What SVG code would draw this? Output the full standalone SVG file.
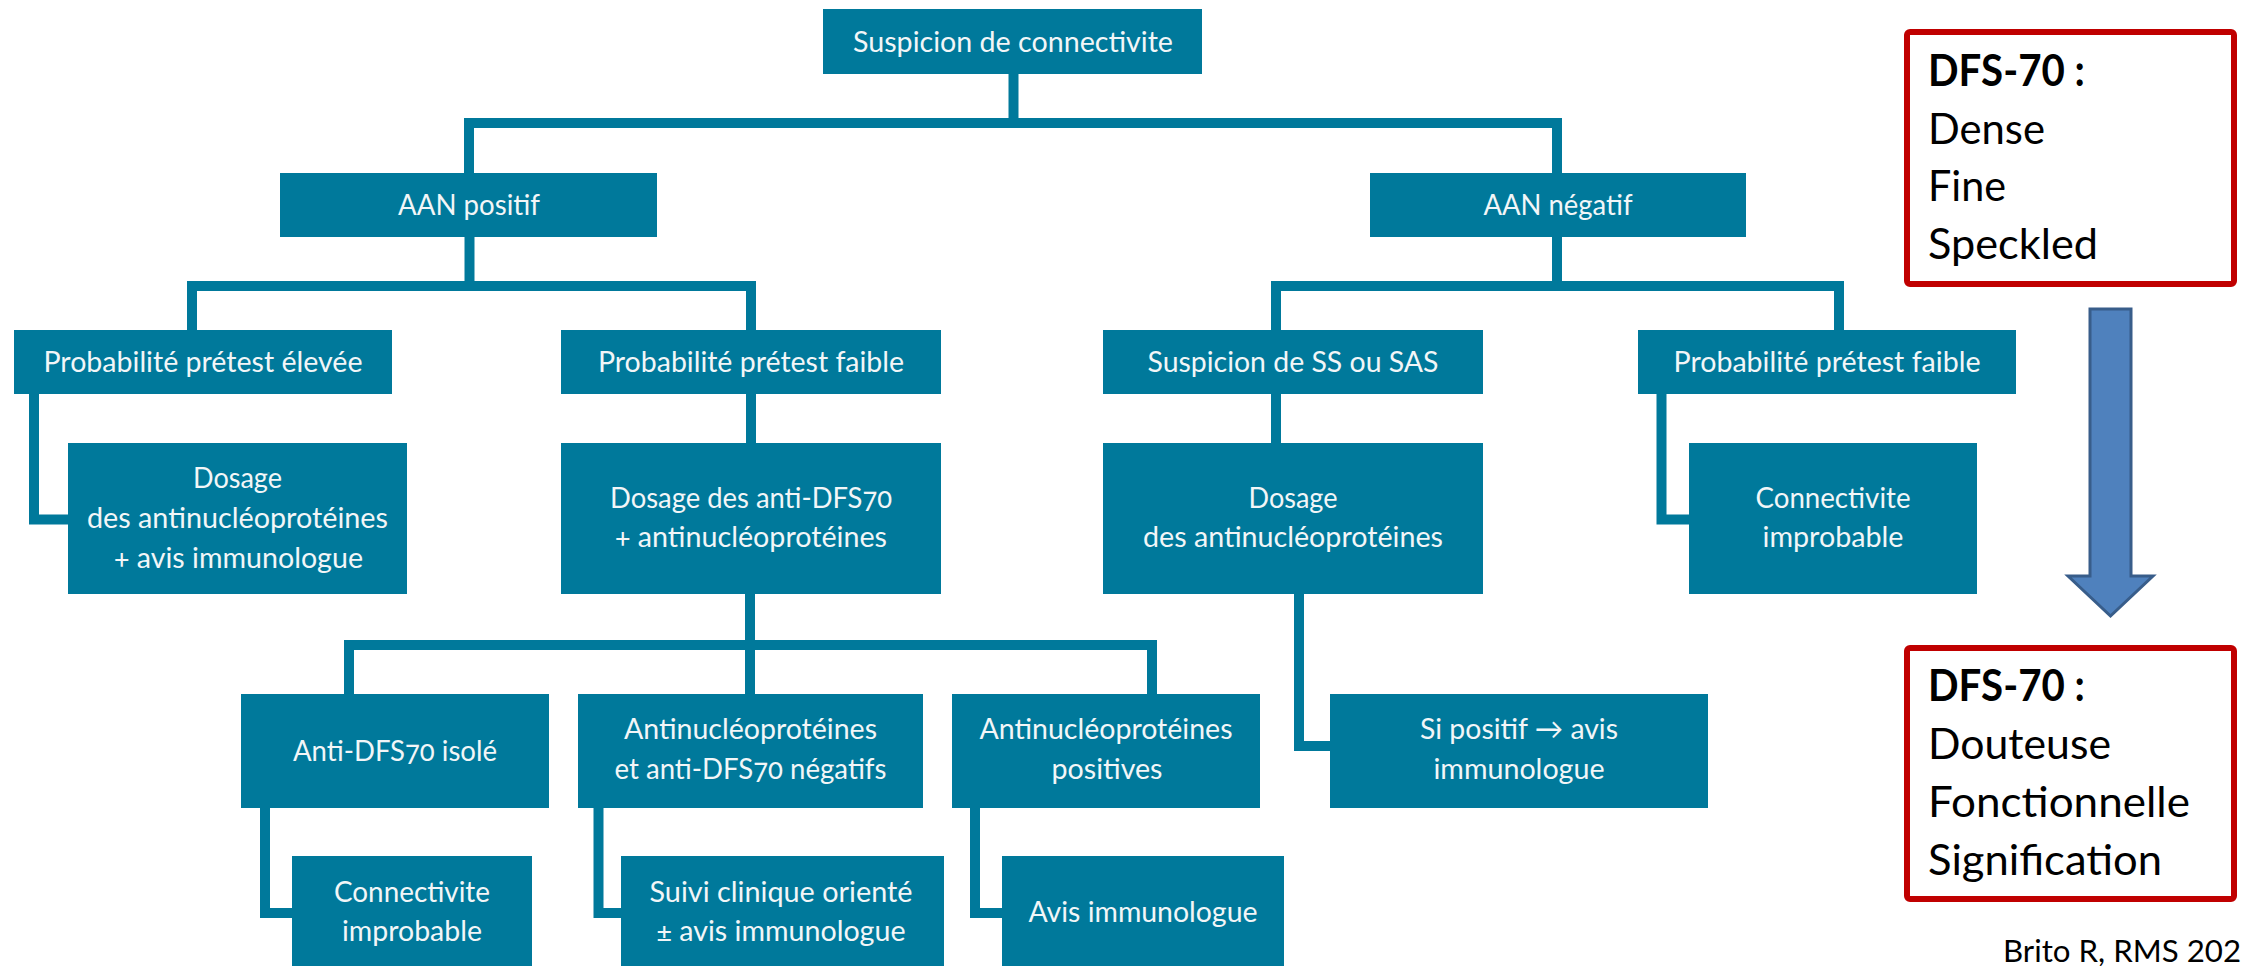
<svg xmlns="http://www.w3.org/2000/svg" width="2246" height="966" viewBox="0 0 2246 966">
<defs>
<style>
.box{fill:#00799b;}
.t{font-family:Lato,"Open Sans","Liberation Sans",sans-serif;font-size:29px;fill:#f2f6f8;text-anchor:middle;font-variant-numeric:oldstyle-nums;}
.conn{fill:none;stroke:#00799b;stroke-width:10;stroke-linejoin:miter;stroke-linecap:butt;}
.red{fill:#ffffff;stroke:#c00000;stroke-width:6;}
.k{font-family:Lato,"Open Sans","Liberation Sans",sans-serif;font-size:43px;fill:#000000;}
.kb{font-weight:bold;}
</style>
</defs>
<rect width="2246" height="966" fill="#ffffff"/>

<g id="connectors">
<path class="conn" d="M1013.5,74 V123"/>
<path class="conn" d="M469,173 V123 H1557 V173"/>
<path class="conn" d="M469.5,237 V286"/>
<path class="conn" d="M192,330 V286 H751 V330"/>
<path class="conn" d="M1557,237 V286"/>
<path class="conn" d="M1276,330 V286 H1839 V330"/>
<path class="conn" d="M34,394 V519.5 H68"/>
<path class="conn" d="M751,394 V443"/>
<path class="conn" d="M1276,394 V443"/>
<path class="conn" d="M1661.5,394 V519.5 H1689"/>
<path class="conn" d="M750,594 V694"/>
<path class="conn" d="M349,694 V645 H1152 V694"/>
<path class="conn" d="M1299,594 V746 H1330"/>
<path class="conn" d="M265,808 V913 H292"/>
<path class="conn" d="M598.5,808 V913 H621"/>
<path class="conn" d="M975,808 V913 H1002"/>
</g>

<g id="n-top"><rect class="box" x="823" y="9" width="379" height="65"/><text class="t" x="1013" y="52" textLength="320" lengthAdjust="spacingAndGlyphs">Suspicion de connectivite</text></g>
<g id="n-aanpos"><rect class="box" x="280" y="173" width="377" height="64"/><text class="t" x="469" y="215" textLength="142" lengthAdjust="spacingAndGlyphs">AAN positif</text></g>
<g id="n-aanneg"><rect class="box" x="1370" y="173" width="376" height="64"/><text class="t" x="1558" y="215" textLength="149" lengthAdjust="spacingAndGlyphs">AAN négatif</text></g>
<g id="n-probhigh"><rect class="box" x="14" y="330" width="378" height="64"/><text class="t" x="203" y="372" textLength="319" lengthAdjust="spacingAndGlyphs">Probabilité prétest élevée</text></g>
<g id="n-problowL"><rect class="box" x="561" y="330" width="380" height="64"/><text class="t" x="751" y="372" textLength="306" lengthAdjust="spacingAndGlyphs">Probabilité prétest faible</text></g>
<g id="n-ss"><rect class="box" x="1103" y="330" width="380" height="64"/><text class="t" x="1293" y="372" textLength="291" lengthAdjust="spacingAndGlyphs">Suspicion de SS ou SAS</text></g>
<g id="n-problowR"><rect class="box" x="1638" y="330" width="378" height="64"/><text class="t" x="1827" y="372" textLength="307" lengthAdjust="spacingAndGlyphs">Probabilité prétest faible</text></g>

<g id="n-dosL"><rect class="box" x="68" y="443" width="339" height="151"/>
<text class="t" x="237.5" y="488" textLength="89" lengthAdjust="spacingAndGlyphs">Dosage</text>
<text class="t" x="237.5" y="528" textLength="301" lengthAdjust="spacingAndGlyphs">des antinucléoprotéines</text>
<text class="t" x="238.5" y="568" textLength="249" lengthAdjust="spacingAndGlyphs">+ avis immunologue</text></g>
<g id="n-dosDFS"><rect class="box" x="561" y="443" width="380" height="151"/>
<text class="t" x="751" y="508" textLength="282" lengthAdjust="spacingAndGlyphs">Dosage des anti-DFS70</text>
<text class="t" x="751" y="547" textLength="272" lengthAdjust="spacingAndGlyphs">+ antinucléoprotéines</text></g>
<g id="n-dosSS"><rect class="box" x="1103" y="443" width="380" height="151"/>
<text class="t" x="1293" y="508" textLength="89" lengthAdjust="spacingAndGlyphs">Dosage</text>
<text class="t" x="1293" y="547" textLength="300" lengthAdjust="spacingAndGlyphs">des antinucléoprotéines</text></g>
<g id="n-connR"><rect class="box" x="1689" y="443" width="288" height="151"/>
<text class="t" x="1833" y="508" textLength="155" lengthAdjust="spacingAndGlyphs">Connectivite</text>
<text class="t" x="1833" y="547" textLength="141" lengthAdjust="spacingAndGlyphs">improbable</text></g>

<g id="n-isole"><rect class="box" x="241" y="694" width="308" height="114"/>
<text class="t" x="395" y="761" textLength="204" lengthAdjust="spacingAndGlyphs">Anti-DFS70 isolé</text></g>
<g id="n-neg"><rect class="box" x="578" y="694" width="345" height="114"/>
<text class="t" x="750.5" y="739" textLength="253" lengthAdjust="spacingAndGlyphs">Antinucléoprotéines</text>
<text class="t" x="750.5" y="779" textLength="272" lengthAdjust="spacingAndGlyphs">et anti-DFS70 négatifs</text></g>
<g id="n-pos"><rect class="box" x="952" y="694" width="308" height="114"/>
<text class="t" x="1106" y="739" textLength="253" lengthAdjust="spacingAndGlyphs">Antinucléoprotéines</text>
<text class="t" x="1107" y="779" textLength="111" lengthAdjust="spacingAndGlyphs">positives</text></g>
<g id="n-sipos"><rect class="box" x="1330" y="694" width="378" height="114"/>
<text class="t" x="1519" y="739" textLength="198" lengthAdjust="spacingAndGlyphs">Si positif → avis</text>
<text class="t" x="1519" y="779" textLength="171" lengthAdjust="spacingAndGlyphs">immunologue</text></g>

<g id="n-connL"><rect class="box" x="292" y="856" width="240" height="112"/>
<text class="t" x="412" y="902" textLength="156" lengthAdjust="spacingAndGlyphs">Connectivite</text>
<text class="t" x="412" y="941" textLength="140" lengthAdjust="spacingAndGlyphs">improbable</text></g>
<g id="n-suivi"><rect class="box" x="621" y="856" width="323" height="112"/>
<text class="t" x="781" y="902" textLength="263" lengthAdjust="spacingAndGlyphs">Suivi clinique orienté</text>
<text class="t" x="781" y="941" textLength="249" lengthAdjust="spacingAndGlyphs">± avis immunologue</text></g>
<g id="n-avis"><rect class="box" x="1002" y="856" width="282" height="112"/>
<text class="t" x="1143" y="922" textLength="229" lengthAdjust="spacingAndGlyphs">Avis immunologue</text></g>

<g id="n-dfs-top">
<rect class="red" x="1907" y="32" width="327" height="252" rx="3"/>
<text class="k kb" x="1928" y="86" textLength="157" lengthAdjust="spacingAndGlyphs">DFS-70 :</text>
<text class="k" x="1928" y="144" textLength="117" lengthAdjust="spacingAndGlyphs">Dense</text>
<text class="k" x="1928" y="201" textLength="78" lengthAdjust="spacingAndGlyphs">Fine</text>
<text class="k" x="1928" y="259" textLength="170" lengthAdjust="spacingAndGlyphs">Speckled</text>
</g>

<g id="n-arrow">
<path d="M2090,309 H2131 V576 H2153 L2110.5,616 L2068,576 H2090 Z" fill="#4f81bd" stroke="#385d8a" stroke-width="3" stroke-linejoin="miter"/>
</g>

<g id="n-dfs-bottom">
<rect class="red" x="1907" y="648" width="327" height="251" rx="3"/>
<text class="k kb" x="1928" y="701" textLength="157" lengthAdjust="spacingAndGlyphs">DFS-70 :</text>
<text class="k" x="1928" y="759" textLength="183" lengthAdjust="spacingAndGlyphs">Douteuse</text>
<text class="k" x="1928" y="817" textLength="262" lengthAdjust="spacingAndGlyphs">Fonctionnelle</text>
<text class="k" x="1928" y="875" textLength="234" lengthAdjust="spacingAndGlyphs">Signification</text>
</g>

<g id="n-ref">
<text x="2003" y="962" font-family="Lato,'Open Sans','Liberation Sans',sans-serif" font-size="30" fill="#000000" textLength="238" lengthAdjust="spacingAndGlyphs">Brito R, RMS 202</text>
</g>
</svg>
